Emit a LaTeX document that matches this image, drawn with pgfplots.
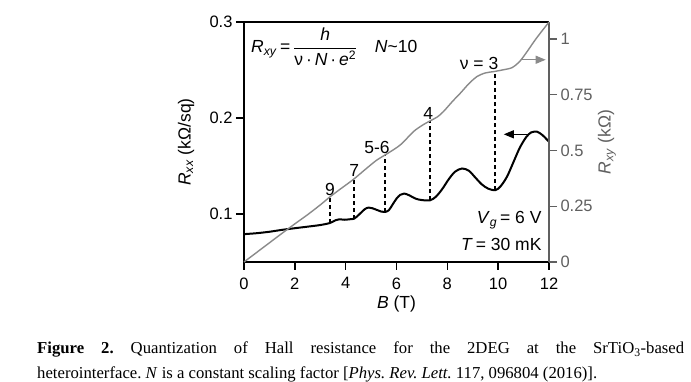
\documentclass[border=0pt]{standalone}
\usepackage{amsmath}
\usepackage{fontspec}
\setmainfont{Liberation Sans}
\newfontfamily\capfont{Liberation Serif}
\usepackage{pgfplots}
\pgfplotsset{compat=1.18}
\usetikzlibrary{arrows.meta}
\definecolor{rxygray}{HTML}{8A8A8A}
\definecolor{axgray}{HTML}{606060}
\newcommand{\fs}{\fontsize{16.5}{19}\selectfont}
\newcommand{\fa}{\fontsize{17.5}{20}\selectfont}
\begin{document}
\begin{tikzpicture}[x=1pt,y=1pt]
\useasboundingbox (0,0) rectangle (691,382);
\pgfplotsset{
  every axis/.append style={scale only axis, width=305pt, height=240pt,
    xmin=0, xmax=12, at={(244pt,120pt)}, anchor=south west, clip=false,
    /pgf/number format/assume math mode=true,
    tick label style={font=\fs},
    label style={font=\fa},
    tick align=outside},
}
\begin{axis}[
  ymin=0.05, ymax=0.3,
  axis x line*=bottom, axis y line*=left,
  ytick={0.1,0.2,0.3}, xtick={0,2,...,12},
  axis line style={line width=1.5pt, black},
  major tick length=8pt,
  xtick style={line width=1.4pt, black},
  ytick style={line width=1.4pt, black},
  xticklabel style={yshift=-4pt},
  xlabel={\textit{B} (T)},
  ylabel={\textit{R}\textsubscript{\textit{xx}} (kΩ/sq)},
  xlabel style={at={(axis description cs:0.5,-0.175)}, anchor=center},
  ylabel style={at={(axis description cs:-0.19,0.5)}, anchor=center},
]
% dashed guide lines (Rxx minimum -> Rxy plateau)
\addplot[black, line width=1.8pt, dash pattern=on 4pt off 3pt] coordinates {(3.38,0.0906) (3.38,0.1178)};
\addplot[black, line width=1.8pt, dash pattern=on 4pt off 3pt] coordinates {(4.34,0.0952) (4.34,0.1369)};
\addplot[black, line width=1.8pt, dash pattern=on 4pt off 3pt] coordinates {(5.55,0.1021) (5.55,0.1615)};
\addplot[black, line width=1.8pt, dash pattern=on 4pt off 3pt] coordinates {(7.32,0.1143) (7.32,0.1965)};
\addplot[black, line width=1.8pt, dash pattern=on 4pt off 3pt] coordinates {(9.86,0.1248) (9.86,0.2483)};
% Rxx
\addplot[black, line width=2pt, smooth] coordinates {
(0,0.0790) (0.5,0.0800) (1.0,0.0815) (1.5,0.0835) (2.0,0.0852) (2.5,0.0868)
(3.0,0.0885) (3.38,0.0906) (3.6,0.0935) (3.75,0.0945) (3.95,0.0940) (4.15,0.0945)
(4.34,0.0952) (4.55,0.1000) (4.75,0.1050) (4.9,0.1067) (5.05,0.1060) (5.25,0.1040)
(5.4,0.1025) (5.55,0.1021) (5.7,0.1040) (5.85,0.1100) (6.0,0.1160) (6.15,0.1200)
(6.3,0.1213) (6.5,0.1195) (6.75,0.1160) (7.0,0.1145) (7.32,0.1143) (7.55,0.1180)
(7.8,0.1260) (8.05,0.1360) (8.3,0.1440) (8.58,0.1474) (8.85,0.1450) (9.1,0.1380)
(9.35,0.1310) (9.6,0.1265) (9.89,0.1248) (10.1,0.1290) (10.35,0.1390) (10.6,0.1540)
(10.85,0.1690) (11.1,0.1800) (11.3,0.1850) (11.53,0.1857) (11.75,0.1820) (12.0,0.1752)
};
\draw[black, line width=1.5pt] (rel axis cs:0,1) -- (rel axis cs:1,1);
\draw[black, line width=1.2pt, -{Triangle[length=10pt,width=8pt]}] (axis cs:11.21,0.183) -- (axis cs:10.22,0.183);
\node[anchor=south, inner sep=1.5pt, font=\fa] at (axis cs:3.38,0.1178) {9};
\node[anchor=south, inner sep=1.5pt, font=\fa] at (axis cs:4.34,0.1369) {7};
\node[anchor=south, inner sep=1.5pt, font=\fa] at (axis cs:5.23,0.1615) {5-6};
\node[anchor=south, inner sep=1.5pt, font=\fa] at (axis cs:7.25,0.1965) {4};
\node[anchor=south, inner sep=1.5pt, font=\fa] at (axis cs:9.25,0.2483) {ν = 3};
\node[anchor=east, inner sep=0pt, font=\fa] at (axis description cs:0.976,0.175) {\textit{V}\textsubscript{\textit{g}}\,= 6 V};
\node[anchor=east, inner sep=0pt, font=\fa] at (axis description cs:0.976,0.071) {\textit{T}\,= 30 mK};
\node[anchor=west, font=\fa] at (axis description cs:0.012,0.896)
  {\textit{R}\textsubscript{\textit{xy}}\,=\,$\dfrac{\text{\itshape h}}{\text{ν\,·\,\itshape N\upshape\,·\,\itshape e\upshape\textsuperscript{2}}}$\quad\textit{N}\textasciitilde 10};
\end{axis}
\begin{axis}[
  ymin=0, ymax=1.0764,
  axis y line*=right, axis x line=none,
  ytick={0,0.25,0.5,0.75,1}, yticklabels={0,0.25,0.5,0.75,1},
  axis line style={line width=1.5pt, axgray},
  major tick length=8pt,
  ytick style={line width=1.4pt, axgray},
  yticklabel style={color=axgray},
  ylabel={\textit{R}\textsubscript{\textit{xy}} (kΩ)},
  ylabel style={at={(axis description cs:1.19,0.5)}, anchor=center, color=axgray},
]
\addplot[rxygray, line width=1.4pt, smooth] coordinates {
(0,0) (0.5,0.043) (1.0,0.086) (1.5,0.129) (2.0,0.171) (2.5,0.212) (3.0,0.256)
(3.38,0.292) (3.8,0.328) (4.3,0.370) (4.8,0.418) (5.2,0.455) (5.55,0.480)
(5.9,0.505) (6.2,0.530) (6.67,0.585) (7.0,0.612) (7.32,0.633) (7.6,0.650)
(7.85,0.675) (8.2,0.720) (8.51,0.757) (8.85,0.800) (9.17,0.832) (9.5,0.848)
(9.83,0.854) (10.2,0.862) (10.55,0.872) (10.85,0.900) (11.14,0.944) (11.45,0.995)
(11.75,1.040) (12.0,1.076)
};
\draw[rxygray, line width=1.2pt, -{Triangle[length=10pt,width=8pt]}] (axis cs:10.88,0.907) -- (axis cs:11.87,0.907);
\end{axis}
\node[anchor=north west, text width=647pt, align=justify, inner sep=0pt,
  font=\capfont\fontsize{16.7}{25}\selectfont] at (37,40)
  {\frenchspacing\hyphenpenalty=10000 \textbf{Figure 2.} Quantization of Hall resistance for the 2DEG at the SrTiO\textsubscript{3}-based\linebreak heterointerface. \textit{N} is a constant scaling factor [\textit{Phys. Rev. Lett.} 117, 096804 (2016)].};
\end{tikzpicture}
\end{document}
